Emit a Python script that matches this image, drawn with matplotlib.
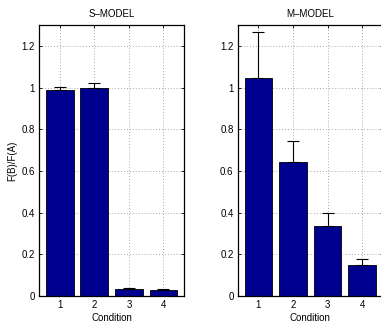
import numpy as np
import matplotlib
matplotlib.use('Agg')
import matplotlib.pyplot as plt

plt.rcParams['font.family'] = ['Liberation Sans', 'DejaVu Sans']
plt.rcParams['font.size'] = 7

# --- Data ---
conditions = [1, 2, 3, 4]
s_mean = [0.987, 0.998, 0.035, 0.030]
s_err = [0.016, 0.022, 0.005, 0.004]
m_mean = [1.046, 0.642, 0.338, 0.150]
m_err = [0.220, 0.100, 0.060, 0.029]
titles = ['S\u2013MODEL', 'M\u2013MODEL']

BAR_COLOR = '#00008f'

fig = plt.figure(figsize=(3.81, 3.22), dpi=100)
ax1 = fig.add_axes([0.1024, 0.0807, 0.381, 0.8416])
ax2 = fig.add_axes([0.6239, 0.0807, 0.381, 0.8416])

for ax, mean, err, title in [(ax1, s_mean, s_err, titles[0]),
                             (ax2, m_mean, m_err, titles[1])]:
    ax.bar(conditions, mean, width=0.8, color=BAR_COLOR, edgecolor='black',
           linewidth=0.6, zorder=2)
    ax.errorbar(conditions, mean, yerr=[np.zeros(len(err)), err], fmt='none',
                ecolor='black', elinewidth=0.8, capsize=4, capthick=0.8, zorder=3)
    ax.set_xlim(0.4, 4.6)
    ax.set_ylim(0, 1.3)
    ax.set_xticks(conditions)
    ax.set_yticks([0, 0.2, 0.4, 0.6, 0.8, 1, 1.2])
    ax.set_yticklabels(['0', '0.2', '0.4', '0.6', '0.8', '1', '1.2'])
    ax.grid(True, linestyle=(0, (1, 2.5)), color='#8c8c8c', linewidth=0.6, zorder=0)
    ax.set_axisbelow(True)
    ax.tick_params(direction='in', length=2.5, width=0.6, top=True, right=True,
                   labelsize=7, pad=3)
    for sp in ax.spines.values():
        sp.set_linewidth(0.9)
    ax.set_title(title, fontsize=7, pad=6)
    ax.set_xlabel('Condition', fontsize=7, labelpad=2)

ax1.set_ylabel('F(B)/F(A)', fontsize=7, labelpad=3)

fig.savefig('out.png', dpi=100)
